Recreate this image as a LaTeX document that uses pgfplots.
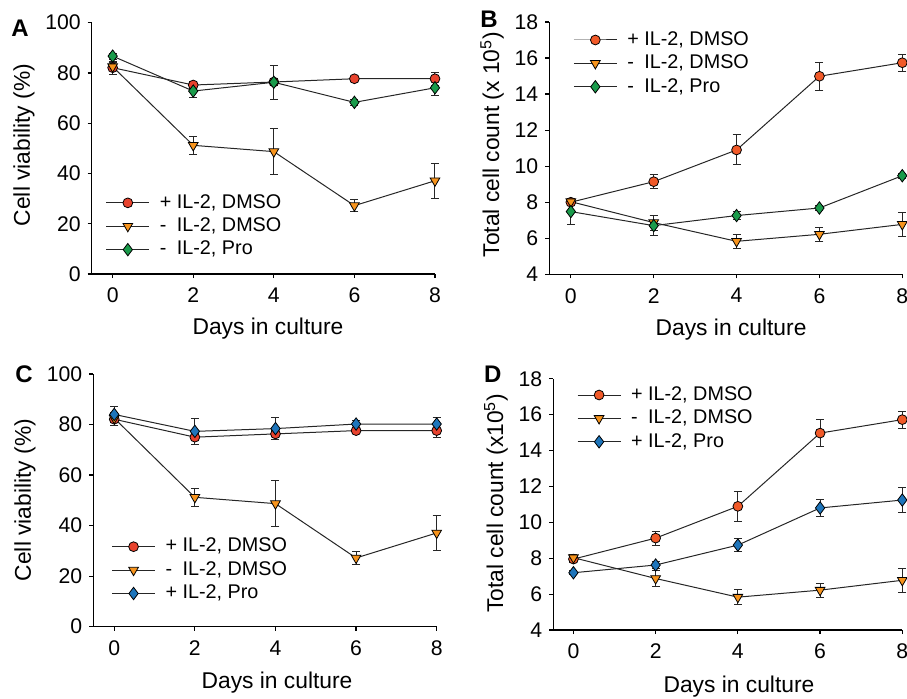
\documentclass[border=0pt]{standalone}
\usepackage{fontspec}
\setmainfont{Liberation Sans}
\usepackage{pgfplots}
\pgfplotsset{compat=1.18}
\definecolor{credA}{HTML}{E8432E}
\definecolor{credB}{HTML}{F15A29}
\definecolor{corange}{HTML}{F7941D}
\definecolor{cgreen}{HTML}{1A9B4B}
\definecolor{cblue}{HTML}{1E75BB}
\pgfplotsset{
  panel/.style={
    scale only axis,
    anchor=south west,
    axis lines=left,
    axis line style={-, line width=0.75pt},
    tick align=outside,
    major tick length=2pt,
    tick style={black, line width=0.6pt},
    xtick={0,2,4,6,8},
    xmax=8,
    /pgf/number format/assume math mode=true,
    tick label style={font=\fontsize{10.6}{12}\selectfont},
    xticklabel style={yshift=-1.5pt},
    label style={font=\fontsize{11.4}{13}\selectfont},
    clip=false,
    legend cell align=left,
    legend style={draw=none, fill=none, anchor=west, inner sep=0pt,
      font=\fontsize{9.9}{11}\selectfont, column sep=4pt,
      nodes={inner sep=1pt, text height=7.5pt, text depth=2.2pt}},
    legend image code/.code={\draw[mark repeat=2,mark phase=2] plot coordinates {(0pt,0pt)(10.75pt,0pt)(21.5pt,0pt)};},
  },
  ser/.style={black!85, line width=0.5pt,
    error bars/y dir=both, error bars/y explicit,
    error bars/error bar style={line width=0.5pt, black!85},
    error bars/error mark options={rotate=90, mark size=2pt, line width=0.5pt, black!85}},
  sredA/.style={ser, mark=*, mark size=2.45pt, mark options={fill=credA, draw=black, line width=0.4pt}},
  sredB/.style={ser, mark=*, mark size=2.45pt, mark options={fill=credB, draw=black, line width=0.4pt}},
  sorange/.style={ser, mark=triangle*, mark size=2.8pt, mark options={rotate=180, fill=corange, draw=black, line width=0.4pt}},
  sgreen/.style={ser, mark=diamond*, mark size=3.1pt, mark options={fill=cgreen, draw=black, line width=0.4pt}},
  sblue/.style={ser, mark=diamond*, mark size=3.1pt, mark options={fill=cblue, draw=black, line width=0.4pt}},
}
\newcommand{\pl}{\makebox[0.86em][l]{+}}
\newcommand{\mi}{\makebox[0.86em][l]{-}}
\begin{document}
\begin{tikzpicture}
\useasboundingbox (0,0) rectangle (453.5pt,349pt);
\clip (0,0) rectangle (453.5pt,349pt);
% Panel A
\begin{axis}[panel, at={(45.85pt,212pt)}, width=171.65pt, height=125.65pt,
  xmin=-0.52, ymin=0, ymax=100, ytick={0,20,40,60,80,100},
  xlabel={Days in culture}, ylabel={Cell viability (\%)},
  xlabel style={at={(axis description cs:0.5135,-0.239)}, anchor=base},
  ylabel style={at={(axis description cs:-0.197,0.513)}, anchor=center},
  legend style={at={(axis description cs:0.040,0.19)}}]
\addplot[sredA] coordinates {(0,82.1) +- (0,2.6) (2,75.2) +- (0,1.5) (4,76.4) +- (0,1.2) (6,77.7) +- (0,1.0) (8,77.7) +- (0,2.6)};
\addlegendentry{\pl IL-2, DMSO}
\addplot[sorange] coordinates {(0,82.5) +- (0,1.5) (2,51.2) +- (0,3.6) (4,48.7) +- (0,9.2) (6,27.2) +- (0,2.5) (8,37.1) +- (0,7.0)};
\addlegendentry{\mi IL-2, DMSO}
\addplot[sgreen] coordinates {(0,86.7) +- (0,1.2) (2,72.8) +- (0,2.5) (4,76.3) +- (0,6.7) (6,68.3) +- (0,1.2) (8,74.1) +- (0,3.0)};
\addlegendentry{\mi IL-2, Pro}
\end{axis}
% Panel B
\begin{axis}[panel, at={(274.65pt,211.85pt)}, width=176.5pt, height=126.15pt,
  xmin=-0.52, ymin=4, ymax=18, ytick={4,6,8,10,12,14,16,18},
  xlabel={Days in culture}, ylabel={Total cell count (x 10\textsuperscript{5})},
  xlabel style={at={(axis description cs:0.515,-0.2445)}, anchor=base},
  ylabel style={at={(axis description cs:-0.162,0.5145)}, anchor=center},
  legend style={at={(axis description cs:0.067,0.836)}}]
\addplot[sredB] coordinates {(0,8.0) +- (0,0.2) (2,9.14) +- (0,0.39) (4,10.9) +- (0,0.83) (6,14.99) +- (0,0.77) (8,15.74) +- (0,0.48)};
\addlegendentry{\pl IL-2, DMSO}
\addplot[sorange] coordinates {(0,8.03) +- (0,0.2) (2,6.87) +- (0,0.42) (4,5.83) +- (0,0.4) (6,6.22) +- (0,0.39) (8,6.77) +- (0,0.68)};
\addlegendentry{\mi IL-2, DMSO}
\addplot[sgreen] coordinates {(0,7.48) +- (0,0.7) (2,6.7) +- (0,0.55) (4,7.26) +- (0,0.2) (6,7.68) +- (0,0.15) (8,9.47) +- (0,0.15)};
\addlegendentry{\mi IL-2, Pro}
\end{axis}
% Panel C
\begin{axis}[panel, at={(46.65pt,35.65pt)}, width=171.7pt, height=126.35pt,
  xmin=-0.52, ymin=0, ymax=100, ytick={0,20,40,60,80,100},
  xlabel={Days in culture}, ylabel={Cell viability (\%)},
  xlabel style={at={(axis description cs:0.535,-0.2465)}, anchor=base},
  ylabel style={at={(axis description cs:-0.199,0.501)}, anchor=center},
  legend style={at={(axis description cs:0.052,0.224)}}]
\addplot[sredA] coordinates {(0,82.1) +- (0,2.6) (2,75.0) +- (0,1.5) (4,76.3) +- (0,1.2) (6,77.6) +- (0,1.0) (8,77.6) +- (0,2.6)};
\addlegendentry{\pl IL-2, DMSO}
\addplot[sorange] coordinates {(0,82.5) +- (0,1.5) (2,51.2) +- (0,3.6) (4,48.7) +- (0,9.2) (6,27.2) +- (0,2.5) (8,37.1) +- (0,7.0)};
\addlegendentry{\mi IL-2, DMSO}
\addplot[sblue] coordinates {(0,84.0) +- (0,3.0) (2,77.3) +- (0,5.0) (4,78.4) +- (0,4.3) (6,80.2) +- (0,1.5) (8,80.2) +- (0,2.4)};
\addlegendentry{\pl IL-2, Pro}
\end{axis}
% Panel D
\begin{axis}[panel, at={(276.65pt,34pt)}, width=174.5pt, height=125.65pt,
  xmin=-0.49, ymin=4, ymax=18, ytick={4,6,8,10,12,14,16,18},
  xlabel={Days in culture}, ylabel={Total cell count (x10\textsuperscript{5})},
  xlabel style={at={(axis description cs:0.532,-0.2495)}, anchor=base},
  ylabel style={at={(axis description cs:-0.164,0.505)}, anchor=center},
  legend style={at={(axis description cs:0.067,0.842)}}]
\addplot[sredB] coordinates {(0,7.95) +- (0,0.2) (2,9.12) +- (0,0.39) (4,10.89) +- (0,0.83) (6,14.97) +- (0,0.77) (8,15.72) +- (0,0.48)};
\addlegendentry{\pl IL-2, DMSO}
\addplot[sorange] coordinates {(0,8.03) +- (0,0.2) (2,6.87) +- (0,0.42) (4,5.83) +- (0,0.4) (6,6.22) +- (0,0.39) (8,6.77) +- (0,0.68)};
\addlegendentry{\mi IL-2, DMSO}
\addplot[sblue] coordinates {(0,7.19) +- (0,0.1) (2,7.62) +- (0,0.2) (4,8.73) +- (0,0.38) (6,10.8) +- (0,0.47) (8,11.24) +- (0,0.7)};
\addlegendentry{\pl IL-2, Pro}
\end{axis}
\node[font=\fontsize{12}{14}\selectfont\bfseries] at (10pt,335pt) {A};
\node[font=\fontsize{12}{14}\selectfont\bfseries] at (244.5pt,339.5pt) {B};
\node[font=\fontsize{12}{14}\selectfont\bfseries] at (12pt,161.65pt) {C};
\node[font=\fontsize{12}{14}\selectfont\bfseries] at (246.35pt,161.85pt) {D};
\end{tikzpicture}
\end{document}
